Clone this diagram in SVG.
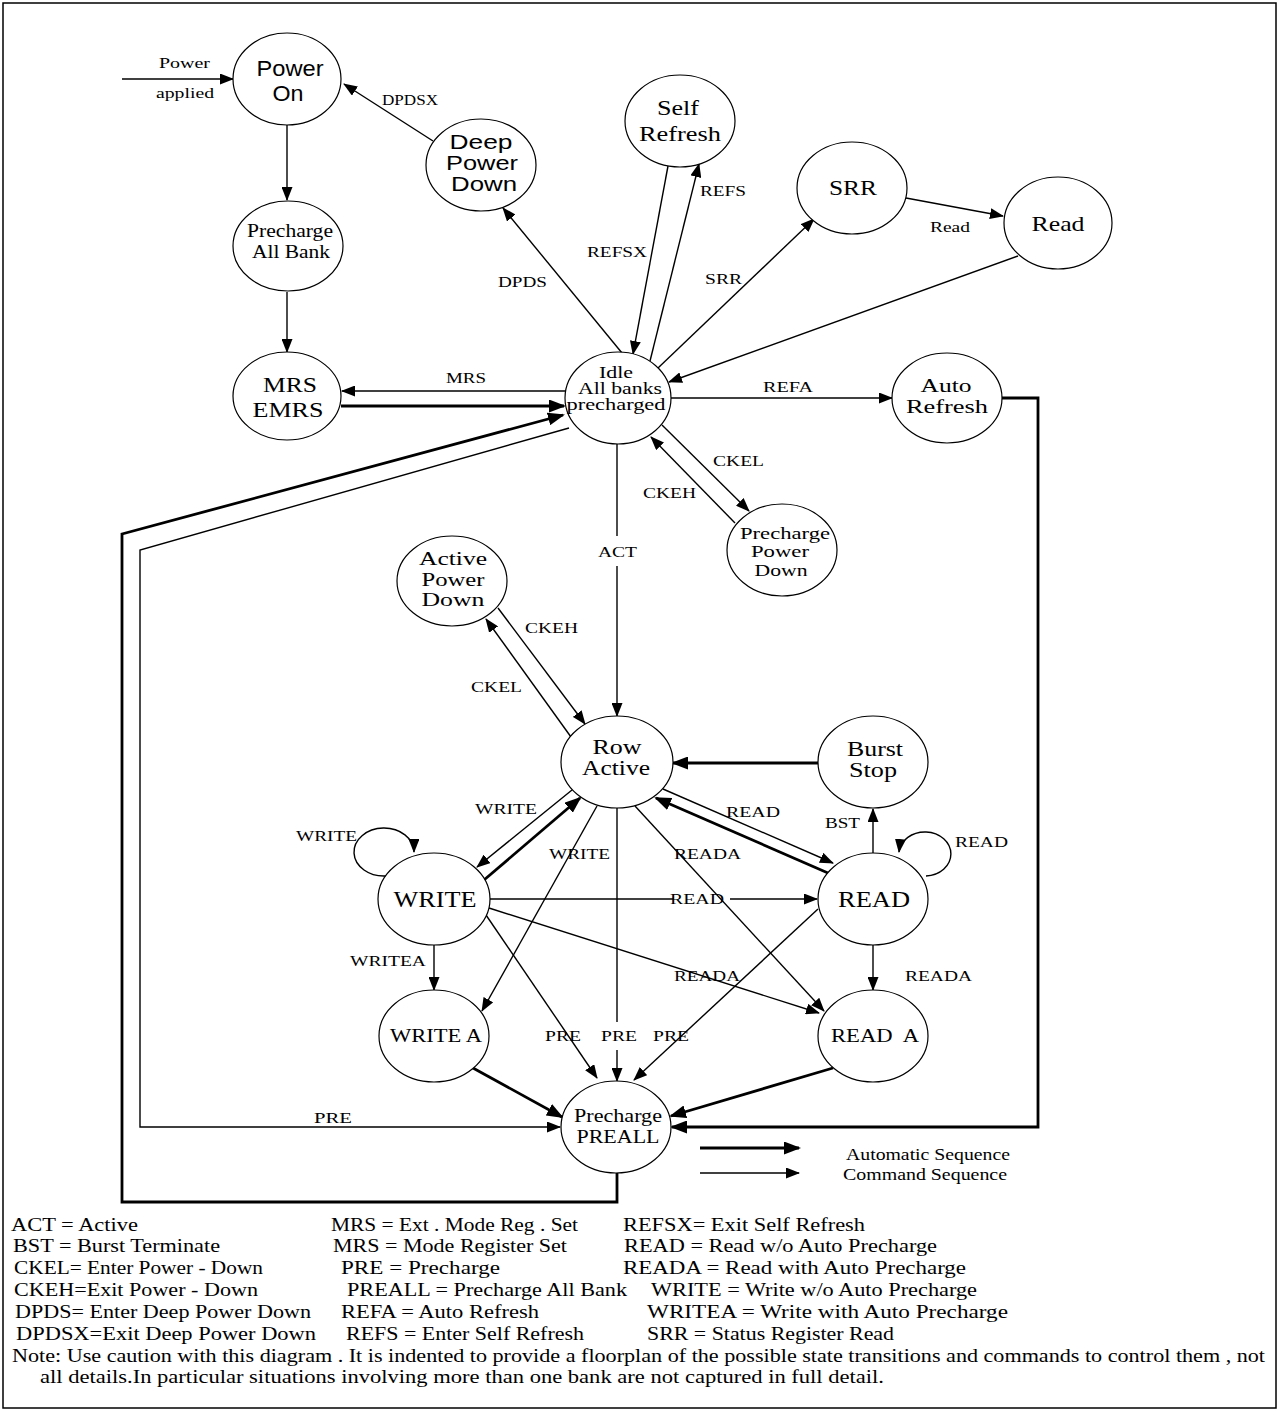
<svg xmlns="http://www.w3.org/2000/svg" width="1279" height="1412" viewBox="0 0 1279 1412">
<defs>
<style>
.n ellipse{fill:#fff;stroke:#000;stroke-width:1.2}
.t{fill:none;stroke:#000;stroke-width:1.4}
.k{fill:none;stroke:#000;stroke-width:2.8}
.ta{marker-end:url(#a)}
.ka{marker-end:url(#A)}
text{fill:#000}
.sv{font-family:"Liberation Serif","Times New Roman",serif}
.ss{font-family:"Liberation Sans",Arial,sans-serif}
.nt{text-anchor:middle}
.lb{font-family:"Liberation Serif","Times New Roman",serif;font-size:15px}
.lg{font-family:"Liberation Serif","Times New Roman",serif;font-size:19px;white-space:pre}
</style>
<marker id="a" markerUnits="userSpaceOnUse" markerWidth="14" markerHeight="11" refX="13" refY="5.5" orient="auto"><path d="M0,0 L14,5.5 L0,11 z" fill="#000"/></marker>
<marker id="A" markerUnits="userSpaceOnUse" markerWidth="17" markerHeight="13" refX="15" refY="6.5" orient="auto"><path d="M0,0 L17,6.5 L0,13 z" fill="#000"/></marker>
</defs>
<rect x="0" y="0" width="1279" height="1412" fill="#fff"/>
<rect x="3" y="3" width="1273" height="1405" fill="none" stroke="#000" stroke-width="1.5"/>

<g id="connectors">
<path class="t ta" d="M122,79 L233,79"/>
<path class="t ta" d="M287,125 L287,200"/>
<path class="t ta" d="M287,292 L287,352"/>
<path class="t ta" d="M433,141 L344,84"/>
<path class="t ta" d="M622,353 L503,208"/>
<path class="t ta" d="M668,166 L633,354"/>
<path class="t ta" d="M650,361 L699,164"/>
<path class="t ta" d="M658,368 L814,219"/>
<path class="t ta" d="M906,198 L1003,216"/>
<path class="t ta" d="M1018,256 L669,382"/>
<path class="t ta" d="M565,391 L342,391"/>
<path class="k ka" d="M341,406 L564,406"/>
<path class="k ka" d="M617,1173 L617,1202 L122,1202 L122,534 L563,415"/>
<path class="t ta" d="M569,428 L140,550 L140,1127 L560,1127"/>
<path class="t ta" d="M671,398 L892,398"/>
<path class="k ka" d="M1002,398 L1038,398 L1038,1127 L672,1127"/>
<path class="t ta" d="M662,425 L749,511"/>
<path class="t ta" d="M735,523 L651,437"/>
<path class="t" d="M617,444 L617,536"/>
<path class="t ta" d="M617,566 L617,716"/>
<path class="t ta" d="M498,608 L585,724"/>
<path class="t ta" d="M571,737 L486,619"/>
<path class="k ka" d="M818,763 L673,763"/>
<path class="t ta" d="M873,854 L873,809"/>
<path class="t ta" d="M572,790 L477,867"/>
<path class="k ka" d="M484,880 L580,798"/>
<path class="t ta" d="M663,789 L833,863"/>
<path class="k ka" d="M828,873 L656,798"/>
<path class="t ta" d="M386,876 A30,24 0 1 1 414,852"/>
<path class="t ta" d="M926,876 A26,22 0 1 0 899,852"/>
<path class="t" d="M490,899 L674,899"/>
<path class="t ta" d="M730,899 L817,899"/>
<path class="t ta" d="M489,908 L819,1013"/>
<path class="t ta" d="M434,945 L434,990"/>
<path class="t ta" d="M486,915 L597,1078"/>
<path class="t ta" d="M597,806 L482,1011"/>
<path class="t" d="M617,808 L617,1022"/>
<path class="t ta" d="M617,1050 L617,1081"/>
<path class="t ta" d="M635,806 L824,1011"/>
<path class="t ta" d="M818,909 L634,1080"/>
<path class="t ta" d="M873,945 L873,990"/>
<path class="k ka" d="M473,1068 L562,1117"/>
<path class="k ka" d="M833,1068 L671,1116"/>
<path class="k ka" d="M700,1148 L799,1148"/>
<path class="t ta" d="M700,1173 L799,1173"/>
</g>

<g id="labels" class="lb">
<text x="159" y="68" textLength="51" lengthAdjust="spacingAndGlyphs">Power</text>
<text x="156" y="98" textLength="58" lengthAdjust="spacingAndGlyphs">applied</text>
<text x="382" y="105" textLength="56" lengthAdjust="spacingAndGlyphs">DPDSX</text>
<text x="498" y="287" textLength="49" lengthAdjust="spacingAndGlyphs">DPDS</text>
<text x="587" y="257" textLength="60" lengthAdjust="spacingAndGlyphs">REFSX</text>
<text x="700" y="196" textLength="46" lengthAdjust="spacingAndGlyphs">REFS</text>
<text x="705" y="284" textLength="37" lengthAdjust="spacingAndGlyphs">SRR</text>
<text x="930" y="232" textLength="40" lengthAdjust="spacingAndGlyphs">Read</text>
<text x="446" y="383" textLength="40" lengthAdjust="spacingAndGlyphs">MRS</text>
<text x="763" y="392" textLength="50" lengthAdjust="spacingAndGlyphs">REFA</text>
<text x="713" y="466" textLength="51" lengthAdjust="spacingAndGlyphs">CKEL</text>
<text x="643" y="498" textLength="53" lengthAdjust="spacingAndGlyphs">CKEH</text>
<text x="598" y="557" textLength="39" lengthAdjust="spacingAndGlyphs">ACT</text>
<text x="525" y="633" textLength="53" lengthAdjust="spacingAndGlyphs">CKEH</text>
<text x="471" y="692" textLength="51" lengthAdjust="spacingAndGlyphs">CKEL</text>
<text x="475" y="814" textLength="62" lengthAdjust="spacingAndGlyphs">WRITE</text>
<text x="726" y="817" textLength="54" lengthAdjust="spacingAndGlyphs">READ</text>
<text x="825" y="828" textLength="35" lengthAdjust="spacingAndGlyphs">BST</text>
<text x="296" y="841" textLength="61" lengthAdjust="spacingAndGlyphs">WRITE</text>
<text x="955" y="847" textLength="53" lengthAdjust="spacingAndGlyphs">READ</text>
<text x="549" y="859" textLength="61" lengthAdjust="spacingAndGlyphs">WRITE</text>
<text x="674" y="859" textLength="67" lengthAdjust="spacingAndGlyphs">READA</text>
<text x="670" y="904" textLength="54" lengthAdjust="spacingAndGlyphs">READ</text>
<text x="350" y="966" textLength="76" lengthAdjust="spacingAndGlyphs">WRITEA</text>
<text x="674" y="981" textLength="66" lengthAdjust="spacingAndGlyphs">READA</text>
<text x="905" y="981" textLength="67" lengthAdjust="spacingAndGlyphs">READA</text>
<text x="545" y="1041" textLength="36" lengthAdjust="spacingAndGlyphs">PRE</text>
<text x="601" y="1041" textLength="36" lengthAdjust="spacingAndGlyphs">PRE</text>
<text x="653" y="1041" textLength="36" lengthAdjust="spacingAndGlyphs">PRE</text>
<text x="314" y="1123" textLength="38" lengthAdjust="spacingAndGlyphs">PRE</text>
<text x="846" y="1160" textLength="164" lengthAdjust="spacingAndGlyphs" style="font-size:16px">Automatic Sequence</text>
<text x="843" y="1180" textLength="164" lengthAdjust="spacingAndGlyphs" style="font-size:16px">Command Sequence</text>
</g>

<g id="power-on" class="n"><ellipse cx="287" cy="79" rx="54" ry="46"/>
<text class="ss nt" font-size="22" x="290" y="76" textLength="67" lengthAdjust="spacingAndGlyphs">Power</text>
<text class="ss nt" font-size="22" x="288" y="101" textLength="31" lengthAdjust="spacingAndGlyphs">On</text></g>

<g id="deep-power-down" class="n"><ellipse cx="481" cy="165" rx="55" ry="46"/>
<text class="ss nt" font-size="20" x="481" y="149" textLength="63" lengthAdjust="spacingAndGlyphs">Deep</text>
<text class="ss nt" font-size="20" x="482" y="170" textLength="72" lengthAdjust="spacingAndGlyphs">Power</text>
<text class="ss nt" font-size="20" x="484" y="191" textLength="66" lengthAdjust="spacingAndGlyphs">Down</text></g>

<g id="self-refresh" class="n"><ellipse cx="680" cy="121" rx="55" ry="46"/>
<text class="sv nt" font-size="22" x="678" y="115" textLength="42" lengthAdjust="spacingAndGlyphs">Self</text>
<text class="sv nt" font-size="22" x="680" y="141" textLength="82" lengthAdjust="spacingAndGlyphs">Refresh</text></g>

<g id="srr" class="n"><ellipse cx="852" cy="188" rx="55" ry="46"/>
<text class="sv nt" font-size="22" x="853" y="195" textLength="48" lengthAdjust="spacingAndGlyphs">SRR</text></g>

<g id="read-sr" class="n"><ellipse cx="1058" cy="223" rx="54" ry="46"/>
<text class="sv nt" font-size="22" x="1058" y="231" textLength="53" lengthAdjust="spacingAndGlyphs">Read</text></g>

<g id="precharge-all-bank" class="n"><ellipse cx="288" cy="246" rx="55" ry="45"/>
<text class="sv nt" font-size="19" x="290" y="237" textLength="86" lengthAdjust="spacingAndGlyphs">Precharge</text>
<text class="sv nt" font-size="19" x="291" y="258" textLength="78" lengthAdjust="spacingAndGlyphs">All Bank</text></g>

<g id="mrs-emrs" class="n"><ellipse cx="287" cy="396" rx="54" ry="44"/>
<text class="sv nt" font-size="22" x="290" y="392" textLength="54" lengthAdjust="spacingAndGlyphs">MRS</text>
<text class="sv nt" font-size="22" x="288" y="417" textLength="71" lengthAdjust="spacingAndGlyphs">EMRS</text></g>

<g id="idle" class="n"><ellipse cx="618" cy="398" rx="53" ry="46"/>
<text class="sv nt" font-size="16" x="616" y="378" textLength="34" lengthAdjust="spacingAndGlyphs">Idle</text>
<text class="sv nt" font-size="16" x="620" y="394" textLength="84" lengthAdjust="spacingAndGlyphs">All banks</text>
<text class="sv nt" font-size="16" x="616" y="410" textLength="99" lengthAdjust="spacingAndGlyphs">precharged</text></g>

<g id="auto-refresh" class="n"><ellipse cx="947" cy="398" rx="55" ry="45"/>
<text class="sv nt" font-size="19" x="946" y="392" textLength="51" lengthAdjust="spacingAndGlyphs">Auto</text>
<text class="sv nt" font-size="19" x="947" y="413" textLength="82" lengthAdjust="spacingAndGlyphs">Refresh</text></g>

<g id="precharge-power-down" class="n"><ellipse cx="782" cy="550" rx="55" ry="46"/>
<text class="sv nt" font-size="17" x="785" y="539" textLength="90" lengthAdjust="spacingAndGlyphs">Precharge</text>
<text class="sv nt" font-size="17" x="780" y="557" textLength="58" lengthAdjust="spacingAndGlyphs">Power</text>
<text class="sv nt" font-size="17" x="781" y="576" textLength="53" lengthAdjust="spacingAndGlyphs">Down</text></g>

<g id="active-power-down" class="n"><ellipse cx="452" cy="581" rx="55" ry="45"/>
<text class="sv nt" font-size="19" x="453" y="565" textLength="68" lengthAdjust="spacingAndGlyphs">Active</text>
<text class="sv nt" font-size="19" x="453" y="586" textLength="63" lengthAdjust="spacingAndGlyphs">Power</text>
<text class="sv nt" font-size="19" x="453" y="606" textLength="63" lengthAdjust="spacingAndGlyphs">Down</text></g>

<g id="row-active" class="n"><ellipse cx="617" cy="762" rx="56" ry="46"/>
<text class="sv nt" font-size="20" x="617" y="754" textLength="49" lengthAdjust="spacingAndGlyphs">Row</text>
<text class="sv nt" font-size="20" x="616" y="775" textLength="68" lengthAdjust="spacingAndGlyphs">Active</text></g>

<g id="burst-stop" class="n"><ellipse cx="873" cy="762" rx="55" ry="46"/>
<text class="sv nt" font-size="20" x="875" y="756" textLength="56" lengthAdjust="spacingAndGlyphs">Burst</text>
<text class="sv nt" font-size="20" x="873" y="777" textLength="48" lengthAdjust="spacingAndGlyphs">Stop</text></g>

<g id="write" class="n"><ellipse cx="434" cy="899" rx="56" ry="46"/>
<text class="sv nt" font-size="23" x="435" y="907" textLength="83" lengthAdjust="spacingAndGlyphs">WRITE</text></g>

<g id="read" class="n"><ellipse cx="873" cy="899" rx="55" ry="46"/>
<text class="sv nt" font-size="23" x="874" y="907" textLength="72" lengthAdjust="spacingAndGlyphs">READ</text></g>

<g id="write-a" class="n"><ellipse cx="434" cy="1036" rx="55" ry="46"/>
<text class="sv nt" font-size="19" x="436" y="1042" textLength="92" lengthAdjust="spacingAndGlyphs">WRITE A</text></g>

<g id="read-a" class="n"><ellipse cx="873" cy="1036" rx="55" ry="46"/>
<text class="sv nt" font-size="19" x="875" y="1042" textLength="88" lengthAdjust="spacingAndGlyphs" style="white-space:pre">READ  A</text></g>

<g id="precharge-preall" class="n"><ellipse cx="616" cy="1127" rx="55" ry="46"/>
<text class="sv nt" font-size="19" x="618" y="1122" textLength="88" lengthAdjust="spacingAndGlyphs">Precharge</text>
<text class="sv nt" font-size="19" x="618" y="1143" textLength="83" lengthAdjust="spacingAndGlyphs">PREALL</text></g>

<g id="legend" class="lg">
<text x="11" y="1231" textLength="127" lengthAdjust="spacingAndGlyphs">ACT = Active</text>
<text x="331" y="1231" textLength="247" lengthAdjust="spacingAndGlyphs">MRS = Ext . Mode Reg . Set</text>
<text x="623" y="1231" textLength="242" lengthAdjust="spacingAndGlyphs">REFSX= Exit Self Refresh</text>
<text x="13" y="1252" textLength="207" lengthAdjust="spacingAndGlyphs">BST = Burst Terminate</text>
<text x="333" y="1252" textLength="234" lengthAdjust="spacingAndGlyphs">MRS = Mode Register Set</text>
<text x="624" y="1252" textLength="313" lengthAdjust="spacingAndGlyphs">READ  = Read w/o Auto Precharge</text>
<text x="14" y="1274" textLength="249" lengthAdjust="spacingAndGlyphs">CKEL= Enter Power - Down</text>
<text x="341" y="1274" textLength="159" lengthAdjust="spacingAndGlyphs">PRE  = Precharge</text>
<text x="623" y="1274" textLength="343" lengthAdjust="spacingAndGlyphs">READA  = Read with Auto Precharge</text>
<text x="14" y="1296" textLength="244" lengthAdjust="spacingAndGlyphs">CKEH=Exit Power - Down</text>
<text x="347" y="1296" textLength="280" lengthAdjust="spacingAndGlyphs">PREALL = Precharge All Bank</text>
<text x="651" y="1296" textLength="326" lengthAdjust="spacingAndGlyphs">WRITE  = Write w/o Auto Precharge</text>
<text x="15" y="1318" textLength="296" lengthAdjust="spacingAndGlyphs">DPDS= Enter Deep Power Down</text>
<text x="341" y="1318" textLength="198" lengthAdjust="spacingAndGlyphs">REFA = Auto Refresh</text>
<text x="647" y="1318" textLength="361" lengthAdjust="spacingAndGlyphs">WRITEA  =  Write with Auto Precharge</text>
<text x="16" y="1340" textLength="300" lengthAdjust="spacingAndGlyphs">DPDSX=Exit Deep Power Down</text>
<text x="346" y="1340" textLength="238" lengthAdjust="spacingAndGlyphs">REFS = Enter Self Refresh</text>
<text x="647" y="1340" textLength="247" lengthAdjust="spacingAndGlyphs">SRR = Status Register Read</text>
<text x="12" y="1362" textLength="1253" lengthAdjust="spacingAndGlyphs">Note: Use caution with this diagram . It is indented to provide a floorplan of the possible state transitions and commands to control them , not</text>
<text x="40" y="1383" textLength="844" lengthAdjust="spacingAndGlyphs">all  details.In particular situations involving more than one bank are not captured in full detail.</text>
</g>
</svg>
